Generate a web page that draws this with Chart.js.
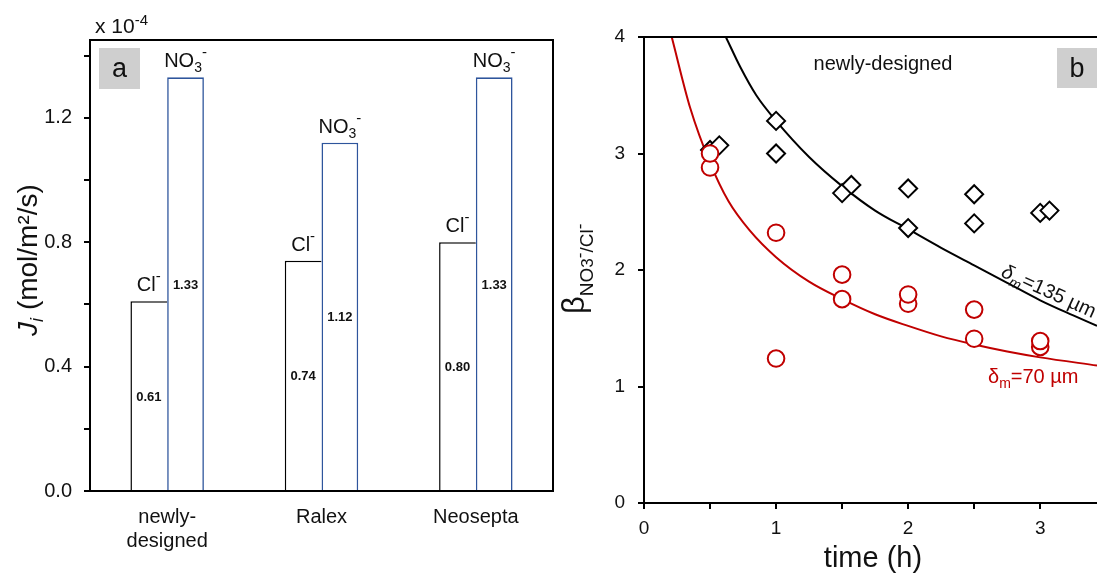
<!DOCTYPE html>
<html>
<head>
<meta charset="utf-8">
<script src="https://cdn.jsdelivr.net/npm/chart.js@4.4.0/dist/chart.umd.min.js"></script>
<style>
body { margin: 0; background: #fff; width: 1097px; height: 574px; overflow: hidden; position: relative; }
#chartA { position: absolute; left: 0; top: 0; }
#chartB { position: absolute; left: 560px; top: 0; }
</style>
</head>
<body>
<canvas id="chartA" width="560" height="574"></canvas>
<canvas id="chartB" width="537" height="574"></canvas>
<script>
// panel a: fluxes (x 10^-4 mol/m2/s)
const membranes = [['newly-', 'designed'], 'Ralex', 'Neosepta'];
const fluxCl = [0.61, 0.74, 0.80];
const fluxNO3 = [1.33, 1.12, 1.33];
const fluxTicks = [0.0, 0.4, 0.8, 1.2];

// panel b: selectivity vs time
const diamondT = [0.5, 0.57, 1, 1, 1.5, 1.57, 2, 2, 2.5, 2.5, 3, 3.07];
const diamondB = [3.03, 3.07, 3.28, 3.0, 2.66, 2.73, 2.70, 2.36, 2.65, 2.40, 2.49, 2.51];
const circleT = [0.5, 0.5, 1, 1, 1.5, 1.5, 2, 2, 2.5, 2.5, 3, 3];
const circleB = [2.88, 3.00, 2.32, 1.24, 1.75, 1.96, 1.71, 1.79, 1.41, 1.66, 1.34, 1.39];
const fit135T = [0.62, 0.73, 0.85, 1.0, 1.25, 1.5, 1.75, 2.0, 2.25, 2.5, 2.75, 3.0, 3.25, 3.43];
const fit135B = [4.0, 3.74, 3.50, 3.28, 2.97, 2.72, 2.51, 2.35, 2.19, 2.04, 1.89, 1.74, 1.61, 1.52];
const fit70T = [0.21, 0.35, 0.5, 0.64, 0.8, 1.0, 1.25, 1.5, 1.75, 2.0, 2.25, 2.5, 2.75, 3.0, 3.43];
const fit70B = [4.0, 3.39, 2.92, 2.59, 2.34, 2.11, 1.90, 1.75, 1.62, 1.52, 1.43, 1.36, 1.30, 1.25, 1.18];
const timeTicks = [0, 1, 2, 3];

const FONT = "'Liberation Sans', Arial, sans-serif";
const RED = '#c00000';
const BLUE = '#2e559c';
const INK = '#111';

function f(size, weight, style) {
    return (style || '') + ' ' + (weight || '') + ' ' + size + 'px ' + FONT;
}

// draws a row of text pieces (for sub/superscripts)
function drawRuns(ctx, runs, x, y, align) {
    let total = 0;
    for (const r of runs) {
        ctx.font = r.font;
        total += ctx.measureText(r.t).width;
    }
    let cx = x;
    if (align === 'center') cx = x - total / 2;
    if (align === 'right') cx = x - total;
    ctx.textAlign = 'left';
    ctx.textBaseline = 'alphabetic';
    for (const r of runs) {
        ctx.font = r.font;
        ctx.fillText(r.t, cx, y + (r.dy || 0));
        cx += ctx.measureText(r.t).width;
    }
}

const panelA = {
    id: 'panelA',
    afterDatasetsDraw(chart) {
        const ctx = chart.ctx;
        ctx.save();
        ctx.fillStyle = INK;
        chart.getDatasetMeta(0).data.forEach((bar, i) => {
            drawRuns(ctx, [{t: 'Cl', font: f(20)}, {t: '-', font: f(15), dy: -10}], bar.x, bar.y - 10, 'center');
            drawRuns(ctx, [{t: fluxCl[i].toFixed(2), font: f(13, 'bold')}], bar.x, (bar.y + bar.base) / 2 + 5, 'center');
        });
        chart.getDatasetMeta(1).data.forEach((bar, i) => {
            drawRuns(ctx, [{t: 'NO', font: f(20)}, {t: '3', font: f(14), dy: 5}, {t: '-', font: f(15), dy: -10}], bar.x, bar.y - 10, 'center');
            drawRuns(ctx, [{t: fluxNO3[i].toFixed(2), font: f(13, 'bold')}], bar.x, (bar.y + bar.base) / 2 + 5, 'center');
        });
        ctx.restore();
    },
    afterDraw(chart) {
        const {ctx, chartArea: a} = chart;
        ctx.save();
        ctx.strokeStyle = '#000';
        ctx.lineWidth = 2;
        ctx.strokeRect(a.left, a.top, a.right - a.left, a.bottom - a.top);

        ctx.fillStyle = '#cfcfcf';
        ctx.fillRect(99, 48, 41, 41);
        ctx.fillStyle = INK;
        drawRuns(ctx, [{t: 'a', font: f(27)}], 119.5, 77, 'center');
        drawRuns(ctx, [{t: 'x 10', font: f(21)}, {t: '-4', font: f(15), dy: -8}], 95, 33, 'left');

        // y title
        ctx.translate(37, 260);
        ctx.rotate(-Math.PI / 2);
        drawRuns(ctx, [
            {t: 'J', font: f(28, '', 'italic')},
            {t: 'i', font: f(18, '', 'italic'), dy: 6},
            {t: ' (mol/m\u00B2/s)', font: f(28)}
        ], 0, 0, 'center');
        ctx.restore();
    }
};

const panelB = {
    id: 'panelB',
    afterDraw(chart) {
        const {ctx, chartArea: a} = chart;
        ctx.save();
        ctx.strokeStyle = '#000';
        ctx.lineWidth = 2;
        ctx.beginPath();
        ctx.moveTo(a.left, a.top);
        ctx.lineTo(a.right, a.top);
        ctx.stroke();

        ctx.fillStyle = '#cfcfcf';
        ctx.fillRect(497, 48, 40, 40);
        ctx.fillStyle = INK;
        drawRuns(ctx, [{t: 'b', font: f(27)}], 517, 77, 'center');
        drawRuns(ctx, [{t: 'newly-designed', font: f(20)}], 323, 70, 'center');

        drawRuns(ctx, [{t: 'time (h)', font: f(29)}], 313, 567, 'center');

        // fit labels
        ctx.fillStyle = RED;
        drawRuns(ctx, [
            {t: '\u03B4', font: f(20)},
            {t: 'm', font: f(14), dy: 5},
            {t: '=70 \u00B5m', font: f(20)}
        ], 428, 383, 'left');

        ctx.save();
        ctx.fillStyle = INK;
        ctx.translate(440, 276);
        ctx.rotate(24.6 * Math.PI / 180);
        drawRuns(ctx, [
            {t: '\u03B4', font: f(20, '', 'italic')},
            {t: 'm', font: f(14, '', 'italic'), dy: 5},
            {t: '=135 \u00B5m', font: f(20)}
        ], 0, 0, 'left');
        ctx.restore();

        // y title
        ctx.fillStyle = INK;
        ctx.translate(24, 314);
        ctx.rotate(-Math.PI / 2);
        drawRuns(ctx, [
            {t: '\u03B2', font: f(31)},
            {t: 'NO', font: f(19), dy: 9},
            {t: '3', font: f(17), dy: 9},
            {t: '-', font: f(17), dy: 1},
            {t: '/Cl', font: f(19), dy: 9},
            {t: '-', font: f(17), dy: 1}
        ], 0, 0, 'left');
        ctx.restore();
    }
};

const tickGrid = {
    display: true,
    drawOnChartArea: false,
    drawTicks: true,
    tickLength: 6,
    color: '#000',
    lineWidth: 2
};

const chartA = new Chart(document.getElementById('chartA').getContext('2d'), {
    type: 'bar',
    data: {
        labels: membranes,
        datasets: [{
            label: 'Cl-',
            data: fluxCl,
            backgroundColor: '#fff',
            borderColor: '#000',
            borderWidth: {top: 1.5, left: 1.5, right: 0, bottom: 0},
            borderSkipped: false
        }, {
            label: 'NO3-',
            data: fluxNO3,
            backgroundColor: '#fff',
            borderColor: BLUE,
            borderWidth: 1.6
        }]
    },
    options: {
        responsive: false,
        animation: false,
        categoryPercentage: 0.476,
        barPercentage: 1.0,
        layout: {autoPadding: false, padding: {top: 40, right: 7, left: 0, bottom: 0}},
        plugins: {legend: {display: false}, tooltip: {enabled: false}},
        scales: {
            x: {
                afterFit: (scale) => { scale.height = 83; },
                grid: {display: false},
                border: {display: true, color: '#000', width: 2},
                ticks: {
                    font: {size: 20, family: FONT},
                    color: INK,
                    padding: 6,
                    maxRotation: 0
                }
            },
            y: {
                min: 0,
                max: 1.45,
                afterFit: (scale) => { scale.width = 90; },
                grid: tickGrid,
                border: {display: true, color: '#000', width: 2},
                ticks: {
                    stepSize: 0.2,
                    includeBounds: false,
                    autoSkip: false,
                    padding: 12,
                    font: {size: 20, family: FONT},
                    color: INK,
                    callback: (v) => fluxTicks.some(t => Math.abs(t - v) < 1e-6) ? v.toFixed(1) : ''
                }
            }
        }
    },
    plugins: [panelA]
});

const chartB = new Chart(document.getElementById('chartB').getContext('2d'), {
    type: 'scatter',
    data: {
        datasets: [{
            label: 'circles',
            data: circleT.map((t, i) => ({x: t, y: circleB[i]})),
            pointStyle: 'circle',
            pointRadius: 8.3,
            borderColor: RED,
            backgroundColor: '#fff',
            borderWidth: 2,
            order: 0
        }, {
            label: 'diamonds',
            data: diamondT.map((t, i) => ({x: t, y: diamondB[i]})),
            pointStyle: 'rectRot',
            pointRadius: 9,
            borderColor: '#000',
            backgroundColor: '#fff',
            borderWidth: 2,
            order: 1
        }, {
            label: 'fit 135',
            data: fit135T.map((t, i) => ({x: t, y: fit135B[i]})),
            showLine: true,
            pointRadius: 0,
            borderColor: '#000',
            borderWidth: 2,
            cubicInterpolationMode: 'monotone',
            fill: false,
            order: 2
        }, {
            label: 'fit 70',
            data: fit70T.map((t, i) => ({x: t, y: fit70B[i]})),
            showLine: true,
            pointRadius: 0,
            borderColor: RED,
            borderWidth: 2,
            cubicInterpolationMode: 'monotone',
            fill: false,
            order: 3
        }]
    },
    options: {
        responsive: false,
        animation: false,
        layout: {autoPadding: false, padding: {top: 37, right: 0, left: 0, bottom: 0}},
        plugins: {legend: {display: false}, tooltip: {enabled: false}},
        scales: {
            x: {
                type: 'linear',
                min: 0,
                max: 3.43,
                afterFit: (scale) => { scale.height = 71; },
                grid: tickGrid,
                border: {display: true, color: '#000', width: 2},
                ticks: {
                    stepSize: 0.5,
                    includeBounds: false,
                    autoSkip: false,
                    maxRotation: 0,
                    padding: 8,
                    font: {size: 19, family: FONT},
                    color: INK,
                    callback: (v) => timeTicks.includes(v) ? String(v) : ''
                }
            },
            y: {
                min: 0,
                max: 4,
                afterFit: (scale) => { scale.width = 84; },
                grid: tickGrid,
                border: {display: true, color: '#000', width: 2},
                ticks: {
                    stepSize: 1,
                    padding: 13,
                    font: {size: 19, family: FONT},
                    color: INK
                }
            }
        }
    },
    plugins: [panelB]
});
</script>
</body>
</html>
